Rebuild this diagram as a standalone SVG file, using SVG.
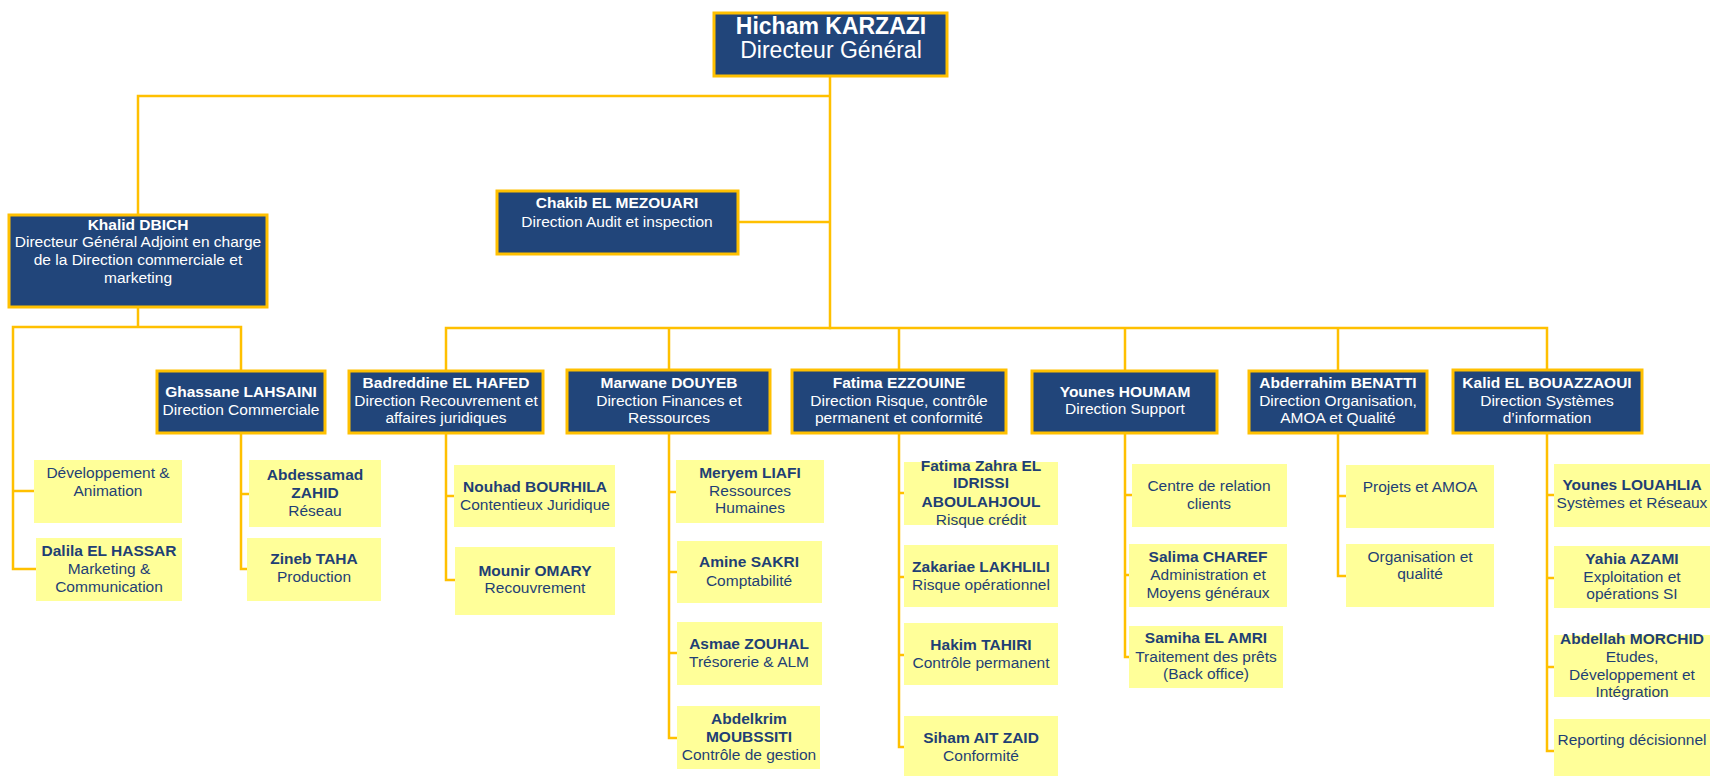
<svg xmlns="http://www.w3.org/2000/svg" width="1710" height="776" viewBox="0 0 1710 776">
<style>
.c{fill:none;stroke:#FFC000;stroke-width:2.5;stroke-linecap:square}
.h rect{fill:#21457A;stroke:#FFC000;stroke-width:3}
.s rect{fill:#FFFF99}
text{font-family:"Liberation Sans",Arial,sans-serif;font-size:15.5px;text-anchor:middle}
.h text{fill:#FFFFFF}
.s text{fill:#1F3F75}
.bd{font-weight:bold}
</style>
<rect width="1710" height="776" fill="#FFFFFF"/>
<g id="connectors" class="c">
<path d="M830,76V328M830,96H138V215M738,222H830"/>
<path d="M446,328H1547M446,328V371M669,328V370M899,328V370M1125,328V371M1338,328V371M1547,328V370"/>
<path d="M138,307V327M13,327H241V371M13,327V569H36M13,491H34"/>
<path d="M241,433V569H247M241,494H249"/>
<path d="M446,433V580H455M446,496H454"/>
<path d="M669,433V738H677M669,492H676M669,572H677M669,653H677"/>
<path d="M899,433V747H904M899,493H904M899,577H904M899,655H904"/>
<path d="M1125,433V657H1129M1125,495H1132M1125,575H1129"/>
<path d="M1338,433V576H1346M1338,496H1346"/>
<path d="M1547,433V751H1554M1547,495H1554M1547,578H1554M1547,667H1554"/>
</g>
<g id="n-karzazi" class="h"><rect x="714" y="13" width="233" height="63"/><text x="831" y="33.5" class="bd" style="font-size:23px">Hicham KARZAZI</text><text x="831" y="58" style="font-size:23px">Directeur Général</text></g>
<g id="n-chakib" class="h"><rect x="497" y="191" width="241" height="63"/><text x="617" y="208" class="bd">Chakib EL MEZOUARI</text><text x="617" y="227">Direction Audit et inspection</text></g>
<g id="n-khalid" class="h"><rect x="9" y="215" width="258" height="92"/><text x="138" y="230" class="bd">Khalid DBICH</text><text x="138" y="247">Directeur Général Adjoint en charge</text><text x="138" y="265">de la Direction commerciale et</text><text x="138" y="283">marketing</text></g>
<g id="n-ghassane" class="h"><rect x="157" y="371" width="168" height="62"/><text x="241" y="397" class="bd">Ghassane LAHSAINI</text><text x="241" y="415">Direction Commerciale</text></g>
<g id="n-badreddine" class="h"><rect x="349" y="371" width="194" height="62"/><text x="446" y="388" class="bd">Badreddine EL HAFED</text><text x="446" y="406">Direction Recouvrement et</text><text x="446" y="423">affaires juridiques</text></g>
<g id="n-marwane" class="h"><rect x="567" y="370" width="203" height="63"/><text x="669" y="388" class="bd">Marwane DOUYEB</text><text x="669" y="406">Direction Finances et</text><text x="669" y="423">Ressources</text></g>
<g id="n-fatima" class="h"><rect x="792" y="370" width="214" height="63"/><text x="899" y="388" class="bd">Fatima EZZOUINE</text><text x="899" y="406">Direction Risque, contrôle</text><text x="899" y="423">permanent et conformité</text></g>
<g id="n-younes" class="h"><rect x="1032" y="371" width="185" height="62"/><text x="1125" y="397" class="bd">Younes HOUMAM</text><text x="1125" y="414">Direction Support</text></g>
<g id="n-abderrahim" class="h"><rect x="1249" y="371" width="178" height="62"/><text x="1338" y="388" class="bd">Abderrahim BENATTI</text><text x="1338" y="406">Direction Organisation,</text><text x="1338" y="423">AMOA et Qualité</text></g>
<g id="n-kalid" class="h"><rect x="1453" y="370" width="189" height="63"/><text x="1547" y="388" class="bd">Kalid EL BOUAZZAOUI</text><text x="1547" y="406">Direction Systèmes</text><text x="1547" y="423">d’information</text></g>
<g id="n-dev" class="s"><rect x="34" y="460" width="148" height="63"/><text x="108" y="478">Développement &amp;</text><text x="108" y="496">Animation</text></g>
<g id="n-dalila" class="s"><rect x="36" y="538" width="146" height="63"/><text x="109" y="556" class="bd">Dalila EL HASSAR</text><text x="109" y="574">Marketing &amp;</text><text x="109" y="592">Communication</text></g>
<g id="n-abdessamad" class="s"><rect x="249" y="460" width="132" height="67"/><text x="315" y="480" class="bd">Abdessamad</text><text x="315" y="498" class="bd">ZAHID</text><text x="315" y="516">Réseau</text></g>
<g id="n-zineb" class="s"><rect x="247" y="538" width="134" height="63"/><text x="314" y="564" class="bd">Zineb TAHA</text><text x="314" y="582">Production</text></g>
<g id="n-nouhad" class="s"><rect x="454" y="465" width="161" height="62"/><text x="535" y="492" class="bd">Nouhad BOURHILA</text><text x="535" y="510">Contentieux Juridique</text></g>
<g id="n-mounir" class="s"><rect x="455" y="547" width="160" height="68"/><text x="535" y="576" class="bd">Mounir OMARY</text><text x="535" y="593">Recouvrement</text></g>
<g id="n-meryem" class="s"><rect x="676" y="460" width="148" height="63"/><text x="750" y="478" class="bd">Meryem LIAFI</text><text x="750" y="496">Ressources</text><text x="750" y="513">Humaines</text></g>
<g id="n-amine" class="s"><rect x="677" y="541" width="145" height="62"/><text x="749" y="567" class="bd">Amine SAKRI</text><text x="749" y="586">Comptabilité</text></g>
<g id="n-asmae" class="s"><rect x="677" y="622" width="145" height="63"/><text x="749" y="649" class="bd">Asmae ZOUHAL</text><text x="749" y="667">Trésorerie &amp; ALM</text></g>
<g id="n-abdelkrim" class="s"><rect x="677" y="706" width="143" height="63"/><text x="749" y="724" class="bd">Abdelkrim</text><text x="749" y="742" class="bd">MOUBSSITI</text><text x="749" y="760">Contrôle de gestion</text></g>
<g id="n-fatimazahra" class="s"><rect x="904" y="462" width="154" height="63"/><text x="981" y="471" class="bd">Fatima Zahra EL</text><text x="981" y="488" class="bd">IDRISSI</text><text x="981" y="507" class="bd">ABOULAHJOUL</text><text x="981" y="525">Risque crédit</text></g>
<g id="n-zakariae" class="s"><rect x="904" y="545" width="154" height="62"/><text x="981" y="572" class="bd">Zakariae LAKHLILI</text><text x="981" y="590">Risque opérationnel</text></g>
<g id="n-hakim" class="s"><rect x="904" y="623" width="154" height="62"/><text x="981" y="650" class="bd">Hakim TAHIRI</text><text x="981" y="668">Contrôle permanent</text></g>
<g id="n-siham" class="s"><rect x="904" y="716" width="154" height="60"/><text x="981" y="743" class="bd">Siham AIT ZAID</text><text x="981" y="761">Conformité</text></g>
<g id="n-centre" class="s"><rect x="1132" y="464" width="155" height="63"/><text x="1209" y="491">Centre de relation</text><text x="1209" y="509">clients</text></g>
<g id="n-salima" class="s"><rect x="1129" y="544" width="158" height="63"/><text x="1208" y="562" class="bd">Salima CHAREF</text><text x="1208" y="580">Administration et</text><text x="1208" y="598">Moyens généraux</text></g>
<g id="n-samiha" class="s"><rect x="1129" y="626" width="154" height="62"/><text x="1206" y="643" class="bd">Samiha EL AMRI</text><text x="1206" y="662">Traitement des prêts</text><text x="1206" y="679">(Back office)</text></g>
<g id="n-projets" class="s"><rect x="1346" y="465" width="148" height="63"/><text x="1420" y="492">Projets et AMOA</text></g>
<g id="n-organisation" class="s"><rect x="1346" y="544" width="148" height="63"/><text x="1420" y="562">Organisation et</text><text x="1420" y="579">qualité</text></g>
<g id="n-youneslouahlia" class="s"><rect x="1554" y="464" width="156" height="63"/><text x="1632" y="490" class="bd">Younes LOUAHLIA</text><text x="1632" y="508">Systèmes et Réseaux</text></g>
<g id="n-yahia" class="s"><rect x="1554" y="546" width="156" height="62"/><text x="1632" y="564" class="bd">Yahia AZAMI</text><text x="1632" y="582">Exploitation et</text><text x="1632" y="599">opérations SI</text></g>
<g id="n-abdellah" class="s"><rect x="1554" y="635" width="156" height="62"/><text x="1632" y="644" class="bd">Abdellah MORCHID</text><text x="1632" y="662">Etudes,</text><text x="1632" y="680">Développement et</text><text x="1632" y="697">Intégration</text></g>
<g id="n-reporting" class="s"><rect x="1554" y="719" width="156" height="57"/><text x="1632" y="745">Reporting décisionnel</text></g>
</svg>
